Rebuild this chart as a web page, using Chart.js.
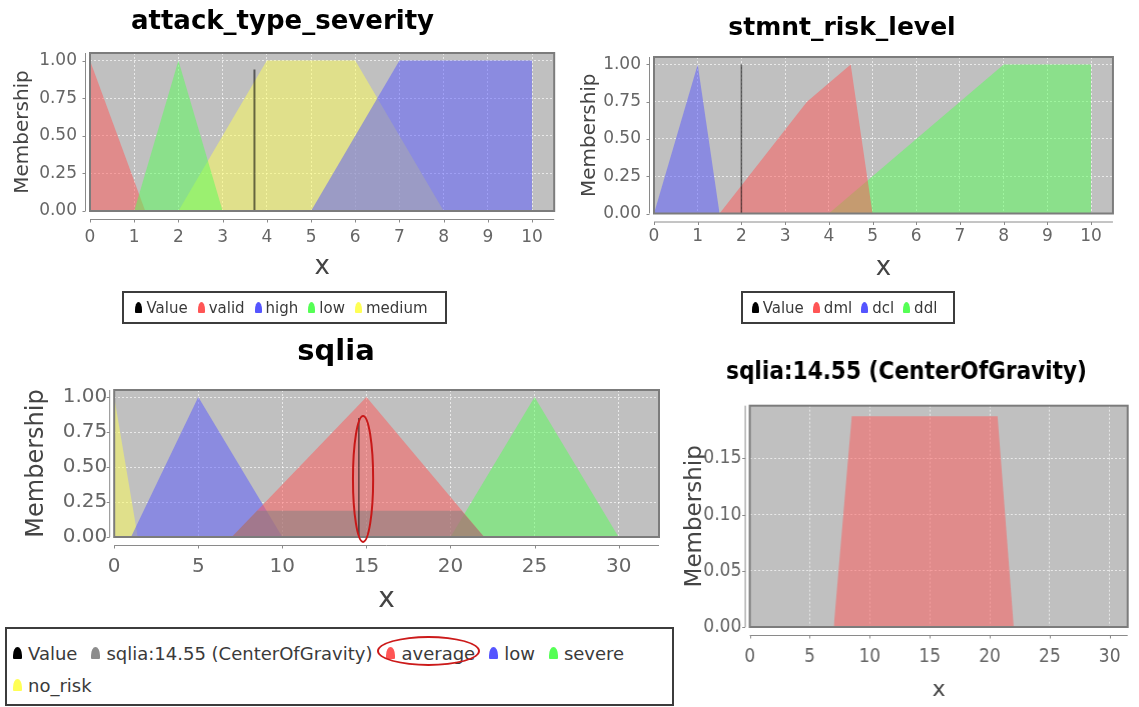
<!DOCTYPE html>
<html>
<head>
<meta charset="utf-8">
<script src="https://cdn.jsdelivr.net/npm/chart.js@4.4.1/dist/chart.umd.min.js"></script>
<style>
html,body{margin:0;padding:0;background:#fff;}
#wrap{position:relative;width:1139px;height:707px;overflow:hidden;background:#fff;}
#wrap canvas{position:absolute;}
.legend{position:absolute;box-sizing:border-box;border:2px solid #3c3c3c;font-family:'DejaVu Sans',sans-serif;color:#3a3a3a;display:flex;flex-wrap:wrap;align-items:center;align-content:flex-start;}
.item{display:flex;align-items:center;white-space:nowrap;}
.mk{display:inline-block;border-radius:50% 50% 1px 1px / 70% 70% 1px 1px;}
.ring{position:absolute;box-sizing:border-box;border:2px solid #cc1a1a;border-radius:50%;}
</style>
</head>
<body>
<div id="wrap"></div>
<script>
// ---------------- data ----------------
// attack_type_severity
const atsValue  = [[3.72, 0], [3.72, 0.94]];
const atsValid  = [[0, 0], [0, 1], [1.25, 0]];
const atsHigh   = [[5, 0], [7, 1], [10, 1], [10, 0]];
const atsLow    = [[1, 0], [2, 1], [3, 0]];
const atsMedium = [[2, 0], [4, 1], [6, 1], [8, 0]];
// stmnt_risk_level
const srlValue = [[2, 0], [2, 1]];
const srlDml   = [[1.5, 0], [3.5, 0.75], [4.5, 1], [5, 0]];
const srlDcl   = [[0, 0], [1, 1], [1.5, 0]];
const srlDdl   = [[4, 0], [8, 1], [10, 1], [10, 0]];
// sqlia
const sqlValue   = [[14.55, 0], [14.55, 0.85]];
const sqlAverage = [[7, 0], [15, 1], [22, 0]];
const sqlLow     = [[1, 0], [5, 1], [10, 0]];
const sqlSevere  = [[20, 0], [25, 1], [30, 0]];
const sqlNoRisk  = [[0, 0], [0, 1], [1.4, 0]];
// defuzzified output (CenterOfGravity aggregate)
const cogShape   = [[7, 0], [8.5, 0.1875], [20.65, 0.1875], [22, 0]];

// tick labels
const ticks0to10   = [0, 1, 2, 3, 4, 5, 6, 7, 8, 9, 10];
const ticks0to30   = [0, 5, 10, 15, 20, 25, 30];
const ticksMember  = [0, 0.25, 0.5, 0.75, 1];
const ticksCog     = [0, 0.05, 0.1, 0.15];

// legends
const atsLegend = ['Value', 'valid', 'high', 'low', 'medium'];
const srlLegend = ['Value', 'dml', 'dcl', 'ddl'];
const sqlLegend = ['Value', 'sqlia:14.55 (CenterOfGravity)', 'average', 'low', 'severe', 'no_risk'];

// annotation (hand-drawn ellipse) in data units: cx, cy, rx, ry
const sqlMark = [14.8, 0.415, 0.6, 0.45];

// ---------------- styles ----------------
const RED = '255,85,85', BLUE = '85,85,255', GREEN = '85,255,85', YELLOW = '255,255,85', GREY = '128,128,128';
const ALPHA = 0.5;
const SANS = "'DejaVu Sans', sans-serif";
const COND = "'DejaVu Sans Condensed', 'Liberation Sans Narrow', 'DejaVu Sans', sans-serif";
const atsLegendColors = ['0,0,0', RED, BLUE, GREEN, YELLOW];
const srlLegendColors = ['0,0,0', RED, BLUE, GREEN];
const sqlLegendColors = ['0,0,0', '140,140,140', RED, BLUE, GREEN, YELLOW];

function pts(a){ return a.map(p => ({x:p[0], y:p[1]})); }
function area(label, data, rgb){
  return {label, data:pts(data), fill:'origin', backgroundColor:`rgba(${rgb},${ALPHA})`,
          borderWidth:0, borderColor:'rgba(0,0,0,0)', pointRadius:0, tension:0};
}
function valueLine(data, w){
  return {label:'Value', data:pts(data), fill:false, borderColor:'rgba(0,0,0,0.55)', borderWidth:w, pointRadius:0};
}

const plotDeco = {
  id:'plotDeco',
  beforeDraw(chart){
    const a = chart.chartArea, c = chart.ctx;
    c.save(); c.fillStyle = '#c0c0c0';
    c.fillRect(a.left, a.top, a.right - a.left, a.bottom - a.top); c.restore();
  },
  afterDraw(chart, args, o){
    const a = chart.chartArea, c = chart.ctx, xs = chart.scales.x, ys = chart.scales.y;
    c.save();
    c.strokeStyle = '#7c7c7c'; c.lineWidth = 2;
    c.strokeRect(a.left, a.top, a.right - a.left, a.bottom - a.top);
    c.strokeStyle = '#8a8a8a'; c.lineWidth = 1;
    const ay = a.bottom + 8.5, ax = a.left - 4.5;
    c.beginPath(); c.moveTo(a.left, ay); c.lineTo(a.right, ay);
    xs.ticks.forEach(t => { const px = Math.round(xs.getPixelForValue(t.value)) + 0.5; c.moveTo(px, ay); c.lineTo(px, ay + 3); });
    c.moveTo(ax, a.top); c.lineTo(ax, a.bottom);
    ys.ticks.forEach(t => { const py = Math.round(ys.getPixelForValue(t.value)) + 0.5; c.moveTo(ax, py); c.lineTo(ax - 3, py); });
    c.stroke();
    if (o && o.ellipse){
      const e = o.ellipse;
      const cx = xs.getPixelForValue(e[0]), cy = ys.getPixelForValue(e[1]);
      const rx = Math.abs(xs.getPixelForValue(e[0] + e[2]) - cx), ry = Math.abs(ys.getPixelForValue(e[1] + e[3]) - cy);
      c.strokeStyle = '#c81818'; c.lineWidth = 2;
      c.beginPath(); c.ellipse(cx, cy, rx, ry, 0, 0, Math.PI * 2); c.stroke();
    }
    c.restore();
  }
};

function makeChart(p){
  const cv = document.createElement('canvas');
  cv.width = p.w; cv.height = p.h;
  cv.style.left = p.x + 'px'; cv.style.top = p.y + 'px';
  cv.style.width = p.w + 'px'; cv.style.height = p.h + 'px';
  document.getElementById('wrap').appendChild(cv);
  const grid = {color:'rgba(255,255,255,0.65)', lineWidth:1, drawTicks:false};
  const border = {display:false, dash:[2, 2]};
  return new Chart(cv, {
    type:'line',
    data:{datasets:p.datasets},
    plugins:[plotDeco],
    options:{
      responsive:false, animation:false, devicePixelRatio:1, events:[],
      layout:{padding:{left:0, right:2, top:0, bottom:0}},
      plugins:{
        legend:{display:false}, tooltip:{enabled:false},
        title:{display:true, text:p.title, color:'#000',
               font:{family:p.titleFamily, size:p.titleSize, weight:'bold', lineHeight:1},
               padding:{top:p.titlePad[0], bottom:p.titlePad[1]}},
        plotDeco:{ellipse:p.ellipse || null}
      },
      scales:{
        x:{type:'linear', min:0, max:p.xmax,
           afterFit(s){ s.height = p.xh; },
           afterBuildTicks(s){ s.ticks = p.xTicks.map(v => ({value:v})); },
           ticks:{color:'#666', font:{family:p.tickFamily, size:p.tickSize}, padding:p.xTickPad,
                  maxRotation:0, autoSkip:false, callback:v => String(v)},
           grid, border,
           title:{display:true, text:'x', color:'#444', font:{family:SANS, size:p.xTitleSize, lineHeight:1},
                  padding:{top:0, bottom:p.xTitlePad}}},
        y:{type:'linear', min:0, max:p.ymax,
           afterFit(s){ s.width = p.yw; },
           afterBuildTicks(s){ s.ticks = p.yTicks.map(v => ({value:v})); },
           ticks:{color:'#666', font:{family:p.tickFamily, size:p.tickSize}, padding:p.yTickPad,
                  callback:v => Number(v).toFixed(2)},
           grid, border,
           title:{display:true, text:'Membership', color:'#444', font:{family:SANS, size:p.yTitleSize, lineHeight:1},
                  padding:{top:p.yTitlePad, bottom:0}}}
      }
    }
  });
}

function makeLegend(labels, colors, box, fontSize, mk, opts){
  const d = document.createElement('div');
  d.className = 'legend';
  Object.assign(d.style, {left:box[0] + 'px', top:box[1] + 'px', width:box[2] + 'px', height:box[3] + 'px',
    fontSize:fontSize + 'px', justifyContent:opts.justify, padding:opts.padding});
  labels.forEach((l, i) => {
    const it = document.createElement('span'); it.className = 'item';
    it.style.marginRight = opts.itemGap + 'px'; it.style.height = opts.rowH + 'px';
    const m = document.createElement('span'); m.className = 'mk';
    Object.assign(m.style, {width:mk[0] + 'px', height:mk[1] + 'px', background:`rgb(${colors[i]})`, marginRight:mk[2] + 'px'});
    const t = document.createElement('span'); t.textContent = l;
    it.appendChild(m); it.appendChild(t); d.appendChild(it);
  });
  document.getElementById('wrap').appendChild(d);
}

// attack_type_severity
makeChart({x:8, y:0, w:551, h:286, title:'attack_type_severity', titleFamily:SANS, titleSize:26, titlePad:[9, 18],
  yw:82, xh:75, xmax:10.5, ymax:1.05, xTicks:ticks0to10, yTicks:ticksMember,
  tickFamily:SANS, tickSize:17, xTickPad:16, yTickPad:13, xTitleSize:26, xTitlePad:6, yTitleSize:20, yTitlePad:5,
  datasets:[valueLine(atsValue, 2), area('high', atsHigh, BLUE), area('low', atsLow, GREEN),
            area('valid', atsValid, RED), area('medium', atsMedium, YELLOW)]});

// stmnt_risk_level
makeChart({x:571, y:0, w:544, h:288, title:'stmnt_risk_level', titleFamily:SANS, titleSize:25, titlePad:[15.5, 16.5],
  yw:83, xh:74.5, xmax:10.5, ymax:1.05, xTicks:ticks0to10, yTicks:ticksMember,
  tickFamily:SANS, tickSize:17, xTickPad:13, yTickPad:13, xTitleSize:26, xTitlePad:7, yTitleSize:20, yTitlePad:9,
  datasets:[valueLine(srlValue, 1.5), area('dml', srlDml, RED), area('dcl', srlDcl, BLUE), area('ddl', srlDdl, GREEN)]});

// sqlia
makeChart({x:12.6, y:320, w:648.8, h:302, title:'sqlia', titleFamily:SANS, titleSize:29, titlePad:[17.5, 23.5],
  yw:101.2, xh:85, xmax:32.4, ymax:1.05, xTicks:ticks0to30, yTicks:ticksMember,
  tickFamily:SANS, tickSize:20, xTickPad:17.7, yTickPad:7, xTitleSize:28, xTitlePad:8, yTitleSize:24, yTitlePad:11.9,
  ellipse:sqlMark,
  datasets:[valueLine(sqlValue, 1.5), area('sqlia:14.55 (CenterOfGravity)', cogShape, GREY), area('average', sqlAverage, RED),
            area('low', sqlLow, BLUE), area('severe', sqlSevere, GREEN), area('no_risk', sqlNoRisk, YELLOW)]});

// sqlia:14.55 (CenterOfGravity)
makeChart({x:676.4, y:340, w:462.6, h:367, title:'sqlia:14.55 (CenterOfGravity)', titleFamily:COND, titleSize:24, titlePad:[21, 20.7],
  yw:73.6, xh:80, xmax:31.5, ymax:0.196875, xTicks:ticks0to30, yTicks:ticksCog,
  tickFamily:COND, tickSize:19, xTickPad:18.3, yTickPad:8.3, xTitleSize:22, xTitlePad:6, yTitleSize:23, yTitlePad:7.6,
  datasets:[area('sqlia:14.55 (CenterOfGravity)', cogShape, RED)]});

// legends
makeLegend(atsLegend, atsLegendColors, [122, 291, 325, 33], 15, [7, 11, 4], {justify:'center', padding:'0 2px 0 6px', itemGap:10, rowH:29});
makeLegend(srlLegend, srlLegendColors, [741, 291, 214, 33], 15, [7, 11, 4], {justify:'center', padding:'0 2px 0 4px', itemGap:9, rowH:29});
makeLegend(sqlLegend, sqlLegendColors, [5, 627, 669, 79], 18, [9, 12, 6], {justify:'flex-start', padding:'8px 4px 0 6px', itemGap:14, rowH:32});
// hand-drawn ring around "average" in the legend
(function(){ const r = document.createElement('div'); r.className = 'ring';
  Object.assign(r.style, {left:'377px', top:'636px', width:'103px', height:'30px'});
  document.getElementById('wrap').appendChild(r); })();
</script>
</body>
</html>
